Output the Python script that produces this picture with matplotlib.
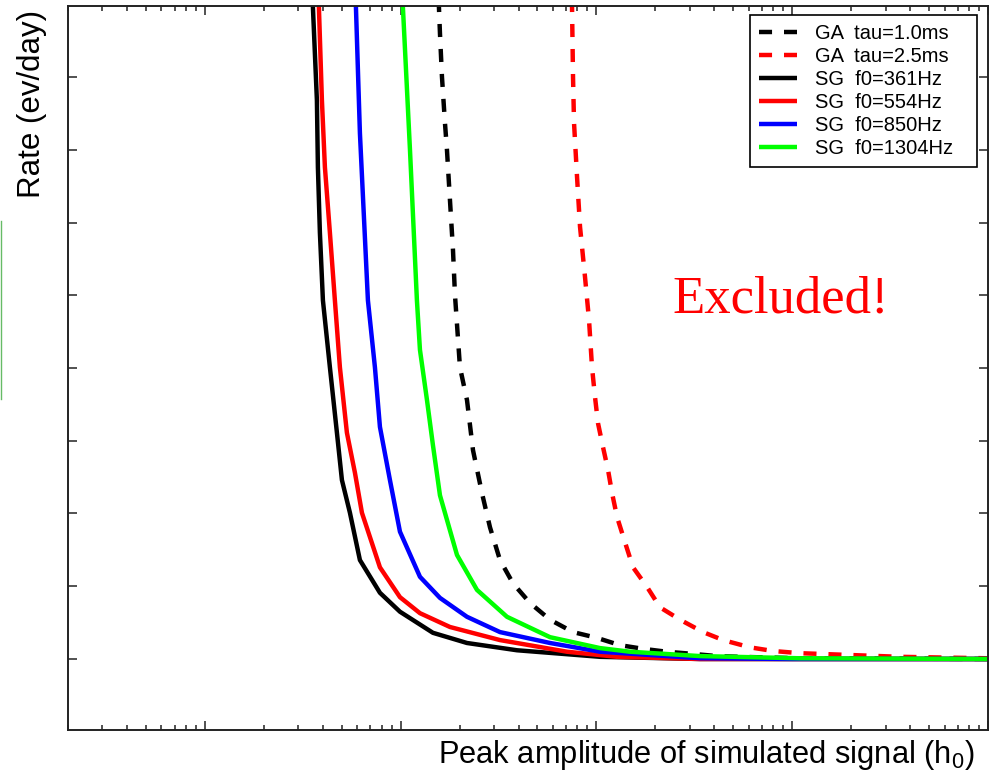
import matplotlib.pyplot as plt
import numpy as np
from matplotlib.lines import Line2D
from matplotlib.ticker import LogLocator, MultipleLocator, NullFormatter

plt.rcParams['font.family'] = ['Liberation Sans', 'DejaVu Sans']
plt.rcParams['mathtext.fontset'] = 'custom'
plt.rcParams['mathtext.rm'] = 'Liberation Sans'
plt.rcParams['lines.scale_dashes'] = False

# Peak amplitude h0 (in units of 1e-21) and rate for each waveform family
h0_ga10 = [15.51, 15.69, 15.88, 16.26, 16.84, 17.24, 17.86, 18.51, 18.95,
           20.09, 21.82, 23.42, 26.03, 28.60, 32.17, 37.49, 45.78, 57.93,
           75.94, 100.7, 132.0, 173.0, 228.4, 311.6, 413.3, 541.9, 1091,
           10000]
rate_ga10 = [9.20, 8.96, 8.60, 8.00, 7.37, 7.00, 6.31, 5.62, 5.00,
             4.01, 3.56, 2.87, 2.28, 1.81, 1.36, 1.04, 0.77, 0.54,
             0.37, 0.29, 0.19, 0.14, 0.10, 0.07, 0.04, 0.03, 0.01,
             0.0]

h0_ga25 = [74.18, 75.06, 75.94, 76.84, 79.60, 82.46, 87.44, 91.66, 94.95,
           98.36, 101.9, 108.1, 114.6, 120.2, 127.5, 140.1, 153.8, 181.4,
           211.3, 267.4, 350.5, 443.6, 609.4, 798.8, 1091, 1389, 3560,
           10000]
rate_ga25 = [9.20, 8.96, 8.00, 7.37, 6.63, 5.94, 5.25, 4.66, 4.01,
             3.60, 3.24, 2.91, 2.60, 2.28, 1.95, 1.60, 1.26, 0.99,
             0.71, 0.54, 0.37, 0.26, 0.16, 0.11, 0.08, 0.07, 0.03,
             0.01]

h0_sg361 = [3.523, 3.564, 3.735, 3.779, 3.869, 4.009, 4.352, 4.727, 5.013,
            5.508, 6.194, 7.839, 9.92, 14.62, 21.82, 39.30, 104.3, 338.3,
            10000]
rate_sg361 = [9.20, 8.96, 7.68, 6.76, 5.86, 4.93, 4.01, 3.11, 2.46,
              2.01, 1.36, 0.91, 0.65, 0.36, 0.22, 0.12, 0.03, 0.0,
              0.0]

h0_sg554 = [3.779, 3.824, 3.962, 4.104, 4.352, 4.615, 4.895, 5.316, 5.842,
            6.343, 7.839, 9.92, 12.55, 17.86, 32.17, 70.76, 127.5, 338.3,
            10000]
rate_sg554 = [9.20, 8.96, 7.68, 6.76, 5.86, 4.93, 4.01, 3.11, 2.56,
              2.01, 1.26, 0.85, 0.63, 0.44, 0.26, 0.10, 0.03, 0.0,
              0.0]

h0_sg850 = [5.842, 5.911, 6.194, 6.806, 7.390, 7.839, 8.817,
            9.92, 12.55, 15.88, 21.82, 32.17, 57.93, 104.3, 338.3, 998.9,
            10000]
rate_sg850 = [9.20, 8.96, 7.23, 4.93, 4.01, 3.19, 2.46,
              1.75, 1.13, 0.84, 0.58, 0.37, 0.22, 0.10, 0.01, 0.0,
              0.0]

h0_sg1304 = [10.15, 10.27, 11.16, 12.11, 12.55, 13.63, 14.62,
             15.88, 19.40, 24.54, 34.93, 57.93, 104.3, 148.5, 338.3, 1091,
             10000]
rate_sg1304 = [9.20, 8.96, 7.00, 4.93, 4.25, 3.56, 2.94,
               2.25, 1.43, 0.95, 0.58, 0.30, 0.15, 0.10, 0.04, 0.01,
               0.0]

curves = [
    (h0_ga10, rate_ga10, 'black', '--', 'GA  tau=1.0ms'),
    (h0_ga25, rate_ga25, 'red', '--', 'GA  tau=2.5ms'),
    (h0_sg361, rate_sg361, 'black', '-', 'SG  f0=361Hz'),
    (h0_sg554, rate_sg554, 'red', '-', 'SG  f0=554Hz'),
    (h0_sg850, rate_sg850, 'blue', '-', 'SG  f0=850Hz'),
    (h0_sg1304, rate_sg1304, '#00ff00', '-', 'SG  f0=1304Hz'),
]

fig = plt.figure(figsize=(10.01, 7.74), dpi=100)
ax = fig.add_axes([68 / 1001, 44 / 774, 920 / 1001, 724 / 774])

for h0, rate, col, ls, lab in curves:
    line, = ax.plot(np.array(h0) * 1e-21, rate, color=col, lw=3.2,
                    label=lab, solid_capstyle='butt', dash_capstyle='butt')
    if ls == '--':
        line.set_dashes((9.4, 8.6))

ax.set_xscale('log')
ax.set_xlim(2e-22, 1e-17)
ax.set_ylim(-0.976, 8.976)

ax.xaxis.set_major_locator(LogLocator(base=10))
ax.xaxis.set_minor_locator(LogLocator(base=10, subs=np.arange(2, 10)))
ax.xaxis.set_minor_formatter(NullFormatter())
ax.yaxis.set_major_locator(MultipleLocator(1))

for sp in ax.spines.values():
    sp.set_linewidth(1.4)
    sp.set_color('#222222')
ax.tick_params(which='both', direction='in', top=True, right=True,
               labelbottom=False, labelleft=False, color='#222222',
               width=1.1)
ax.tick_params(which='major', length=6.6)
ax.tick_params(which='minor', length=3.6)

# legend box stretched to a fixed width in the top right corner
leg = ax.legend(loc='upper left', mode='expand',
                bbox_to_anchor=(682 / 920, 0.9876, 227 / 920, 0),
                borderaxespad=0, fontsize=14.5, fancybox=False,
                framealpha=1, edgecolor='black', handlelength=1.9,
                handletextpad=0.9, labelspacing=0.2, borderpad=0.45)
leg.get_frame().set_linewidth(1.2)

fig.text(47 / 1001, 1 - 10 / 774, 'Rate (ev/day)', rotation=90,
         ha='right', va='top', fontsize=22.5)
fig.text(975 / 1001, (774 - 763) / 774,
         r'Peak amplitude of simulated signal (h$\mathregular{_0}$)',
         ha='right', va='baseline', fontsize=22.2)
fig.text(780.5 / 1001, (774 - 312) / 774, 'Excluded!', ha='center',
         va='baseline', fontsize=38, color='red',
         fontfamily='Liberation Serif')

# thin green edge on the left border
fig.add_artist(Line2D([0.6 / 1001, 0.6 / 1001],
                      [(774 - 221) / 774, (774 - 399) / 774],
                      color='#66bb66', lw=1.0))

fig.savefig('out.png', dpi=100)
